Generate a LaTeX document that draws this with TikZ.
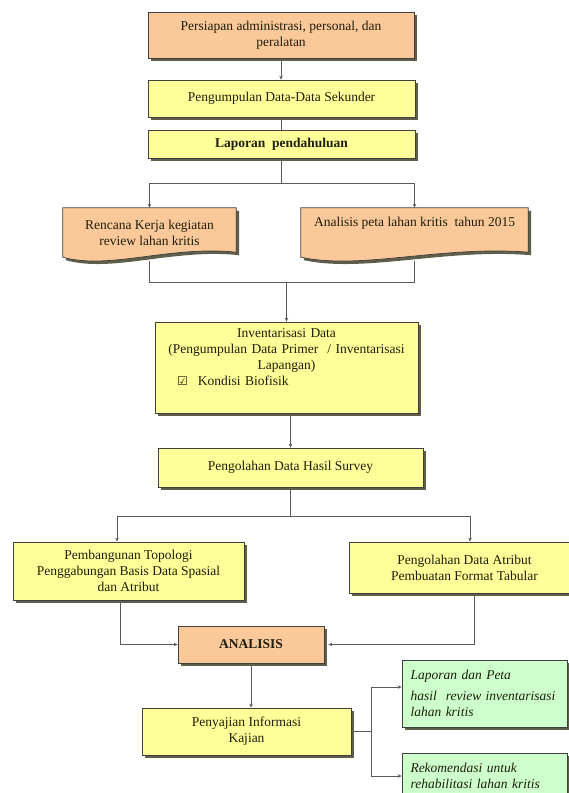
\documentclass[tikz,border=0pt]{standalone}
\usepackage{fontspec}
\setmainfont{Liberation Serif}
\newfontfamily\symfont{DejaVu Sans}
\usetikzlibrary{arrows.meta,shadows,calc,backgrounds}
\definecolor{peach}{HTML}{FBC89A}
\definecolor{pale}{HTML}{FFFF99}
\definecolor{mint}{HTML}{CCFFCC}
\definecolor{edge}{HTML}{404040}
\definecolor{wire}{HTML}{5A5A5A}
\definecolor{shade}{HTML}{5E5E4A}
\definecolor{ink}{HTML}{1E1E0A}
% document symbol: flat top, wavy bottom, drawn round a named text node
\newcommand\docshape[1]{%
  \path[docbody] (#1.north west) -- (#1.north east)
    -- ($(#1.south east)+(0,-6)$)
    .. controls ($(#1.south east)!0.38!(#1.south west)+(0,-13)$)
           and ($(#1.south east)!0.73!(#1.south west)+(0,12)$)
    .. ($(#1.south west)+(0,-1)$) -- cycle;}
\begin{document}
\begin{tikzpicture}[x=1pt,y=-1pt,
  txt/.style={font=\fontsize{13.5}{16}\selectfont, text=ink},
  shadowed/.style={drop shadow={shadow xshift=3pt,shadow yshift=-3pt,fill=shade,opacity=1}},
  pbox/.style={txt, rectangle, draw=edge, line width=0.7pt, inner sep=2pt, align=center, shadowed},
  ybox/.style={pbox, fill=pale},
  obox/.style={pbox, fill=peach},
  gbox/.style={pbox, fill=mint, align=left, text width=148, font=\fontsize{13.5}{16}\selectfont\itshape},
  heavy/.style={font=\fontsize{13.5}{16}\selectfont\bfseries},
  doctext/.style={txt, align=center, inner sep=2pt},
  docbody/.style={draw=edge, line width=0.7pt, fill=peach, shadowed},
  wireline/.style={draw=wire, line width=0.8pt},
  flow/.style={wireline, -{Stealth[length=4pt,width=3.5pt]}},
]
\useasboundingbox (0,0) rectangle (569,793);
\begin{scope}[on background layer]
  \fill[white] (0,0) rectangle (569,793);
\end{scope}
\clip (0,0) rectangle (569,793);

% boxes
\node[obox, minimum width=266, minimum height=46] (b1) at (281,35)
  {Persiapan administrasi, personal, dan\\peralatan};
\node[ybox, minimum width=267, minimum height=37] (b2) at (281.5,98.5)
  {Pengumpulan Data-Data Sekunder};
\node[ybox, heavy, minimum width=267, minimum height=28] (b3) at (281.5,144)
  {Laporan\ \ pendahuluan};
\node[doctext, minimum width=173, minimum height=50] (d1) at (149.5,233)
  {Rencana Kerja kegiatan\\review lahan kritis};
\node[doctext, minimum width=227, minimum height=50, text depth=23pt] (d2) at (414.5,233)
  {Analisis peta lahan kritis\ \ tahun 2015};
\begin{scope}[on background layer]
  \docshape{d1}
  \docshape{d2}
\end{scope}
\node[ybox, text width=255, minimum width=263, minimum height=91, text depth=68pt] (b4) at (286.5,367.5)
  {Inventarisasi Data\\(Pengumpulan Data Primer\ \ / Inventarisasi\\Lapangan)\par
   \noindent\makebox[\linewidth][l]{\hspace*{18pt}{\symfont\fontsize{12}{12}\selectfont ☑}\hspace{10pt}Kondisi Biofisik}};
\node[ybox, minimum width=265, minimum height=39] (b5) at (290.5,467.5)
  {Pengolahan Data Hasil Survey};
\node[ybox, minimum width=231, minimum height=58] (b6) at (128.5,571)
  {Pembangunan Topologi\\Penggabungan Basis Data Spasial\\dan Atribut};
\node[ybox, minimum width=231, minimum height=51] (b7) at (464.5,567.5)
  {Pengolahan Data Atribut\\Pembuatan Format Tabular};
\node[obox, heavy, minimum width=146, minimum height=37] (an) at (251,644.5)
  {ANALISIS};
\node[ybox, minimum width=209, minimum height=47] (pen) at (246.5,731.5)
  {Penyajian Informasi\\Kajian};
\node[gbox, minimum width=165, minimum height=67] (g1) at (484.5,693.5)
  {Laporan dan Peta\\[5pt]hasil\ \ review inventarisasi\\lahan kritis};
\node[gbox, minimum width=165, minimum height=46] (g2) at (484.5,776)
  {Rekomendasi untuk\\rehabilitasi lahan kritis};

% connectors
\draw[flow, shorten <=3pt] (b1.south) -- (b1.south |- b2.north);
\draw[wireline, shorten <=3pt] (b2.south) -- (b2.south |- b3.north);
\draw[wireline, shorten <=3pt] (b3.south) -- ++(0,25) coordinate (j1);
\draw[flow] (j1) -| (d1.north);
\draw[flow] (j1) -| (d2.north);
\coordinate (j2) at (b4.north |- 0,282);
\draw[wireline, shorten <=3pt] (d1.south) |- (j2);
\draw[wireline, shorten <=3pt] (d2.south) |- (j2);
\draw[flow] (j2) -- (b4.north);
\draw[flow, shorten <=3pt] (b4.south -| b5.north) -- (b5.north);
\draw[wireline, shorten <=3pt] (b5.south) -- ++(0,29) coordinate (j3);
\draw[flow] (j3) -| ([xshift=-11.5pt]b6.north);
\draw[flow] (j3) -| ([xshift=5.5pt]b7.north);
\draw[flow, shorten <=3pt] ([xshift=-8.5pt]b6.south) |- (an.west);
\draw[flow, shorten <=3pt, shorten >=4pt] ([xshift=9.5pt]b7.south) |- (an.east);
\draw[flow, shorten <=3pt] (an.south) -- (an.south |- pen.north);
\draw[wireline] ([xshift=3pt]pen.east) -- ++(17,0) coordinate (j4);
\draw[flow] (j4) |- ([yshift=6.5pt]g1.west);
\draw[flow] (j4) |- (g2.west);
\end{tikzpicture}
\end{document}
